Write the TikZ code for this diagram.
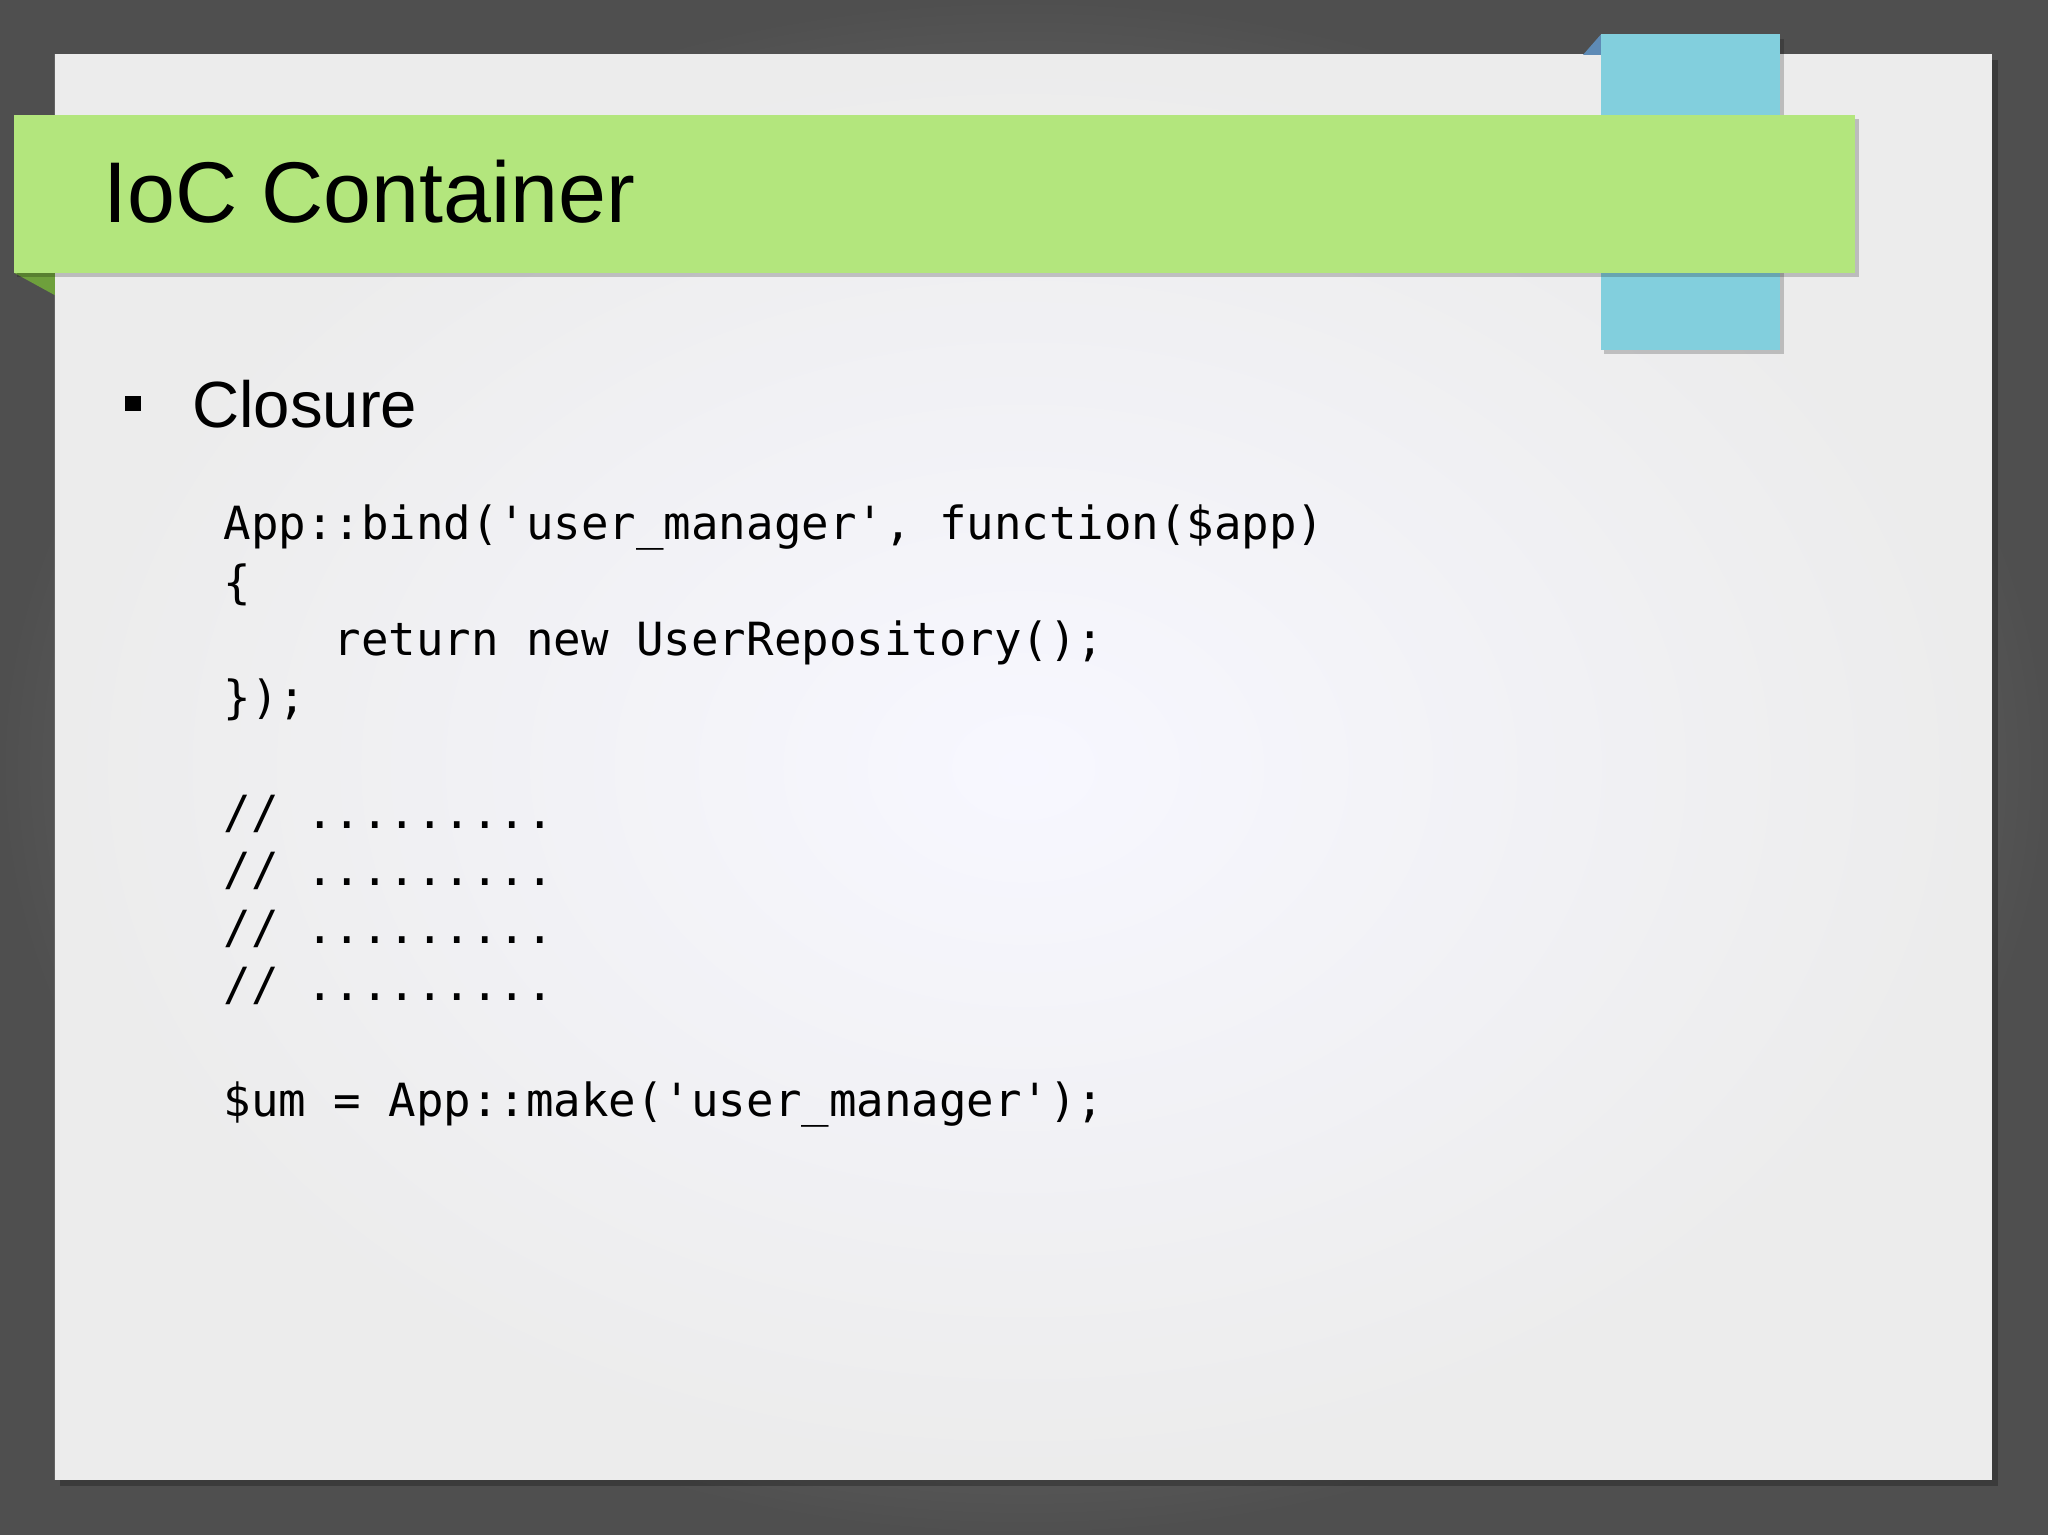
\documentclass[tikz,border=0pt]{standalone}
\usepackage{fontspec}
\setmainfont{Liberation Sans}
\newfontfamily\codefont{DejaVu Sans Mono}
\begin{document}
\begin{tikzpicture}[x=1pt,y=-1pt,
  codeline/.style={anchor=base west,inner sep=0pt,font=\codefont\fontsize{35}{42}\selectfont}]
\useasboundingbox (0,0) rectangle (1568,1175);
\shade[inner color=gray!72, outer color=gray!62!black] (0,0) rectangle (1568,1175);
\fill[black,opacity=0.25] (46,46) rectangle (1530,1138);
\shade[inner color=white!97!blue, outer color=gray!15] (42,42) rectangle (1525,1133);
% blue tab
\fill[cyan!45!gray!80!blue] (1212,42) -- (1226,26) -- (1226,42) -- cycle;
\fill[black,opacity=0.2] (1228,30) rectangle (1366,271);
\fill[cyan!50!teal!40!white] (1226,26) rectangle (1363,268);
\fill[color={rgb,255:red,130;green,207;blue,221}] (1226,26) rectangle (1363,268);
% green bar
\fill[color={rgb,255:red,110;green,160;blue,60}] (11,209) -- (42,209) -- (42,226) -- cycle;
\fill[black,opacity=0.2] (13,91) rectangle (1423,212);
\fill[color={rgb,255:red,179;green,230;blue,125}] (11,88) rectangle (1420,209);
\node[anchor=base west,inner sep=0pt,font=\fontsize{66}{70}\selectfont] (title) at (79,170) {IoC Container};
\fill (96,303) rectangle (108,315);
\node[anchor=base west,inner sep=0pt,font=\fontsize{50}{56}\selectfont] (closure) at (147,327) {Closure};
\node[codeline] (c1) at (171,413) {App::bind('user\_manager', function(\$app)};
\node[codeline] (c2) at (171,458) {\{};
\node[codeline] (c3) at (171,502) {\ \ \ \ return new UserRepository();};
\node[codeline] (c4) at (171,546) {\});};
\node[codeline] (c5) at (171,634) {// .........};
\node[codeline] (c6) at (171,678) {// .........};
\node[codeline] (c7) at (171,722) {// .........};
\node[codeline] (c8) at (171,766) {// .........};
\node[codeline] (c9) at (171,855) {\$um = App::make('user\_manager');};
\end{tikzpicture}
\end{document}
